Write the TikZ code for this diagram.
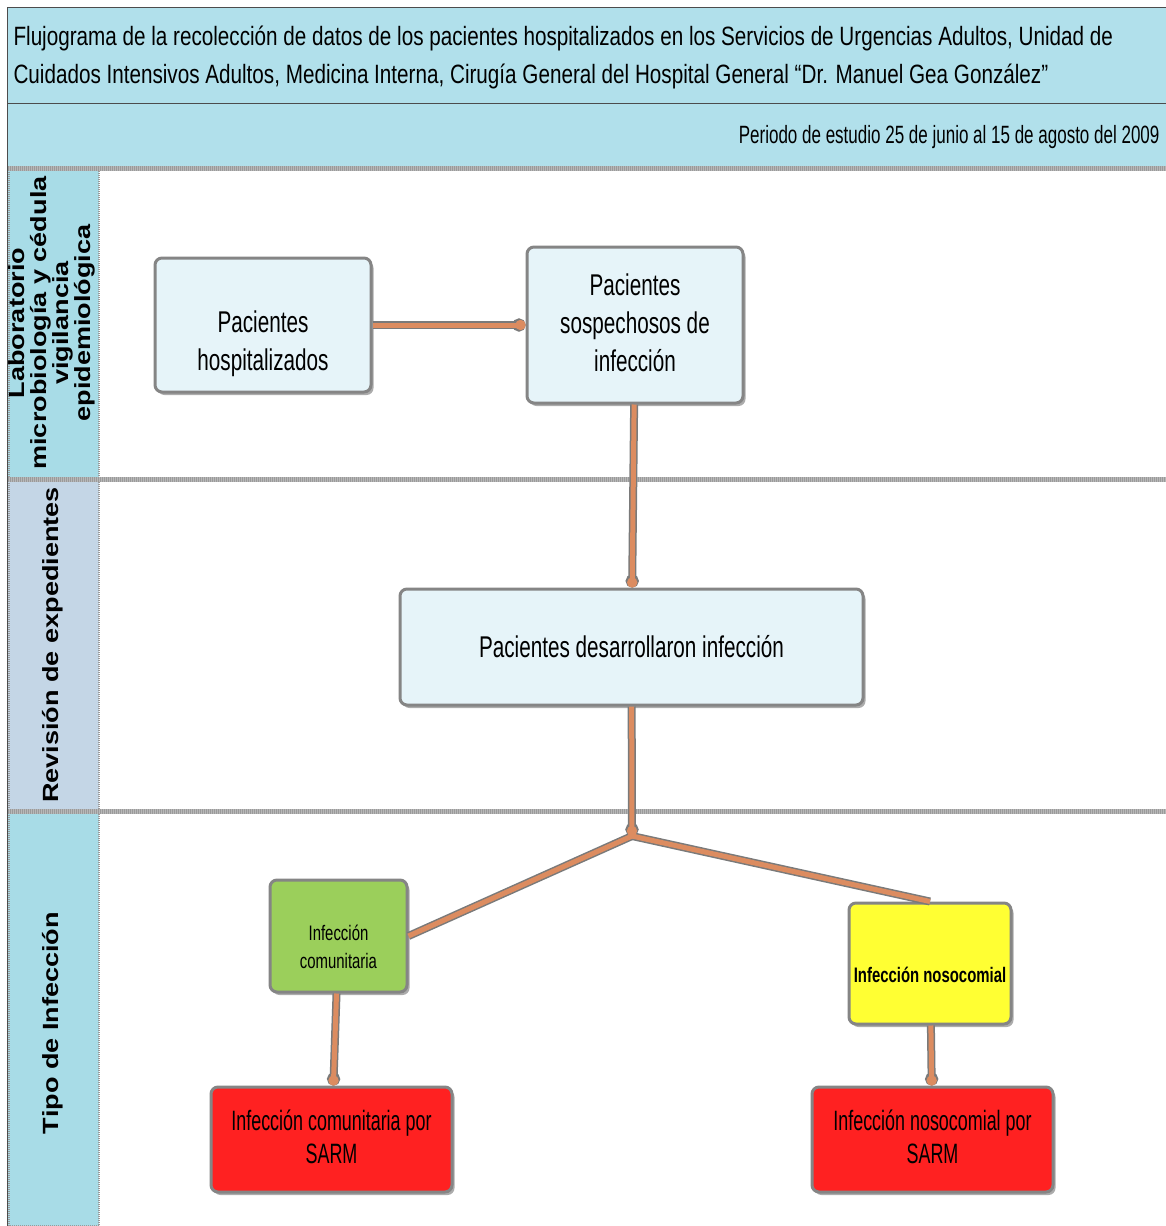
\documentclass[tikz,border=0pt]{standalone}
\usepackage{fontspec}
\setmainfont{Liberation Sans}
\newfontfamily\titlefont[FakeStretch=0.78]{Liberation Sans}
\newfontfamily\periodfont[FakeStretch=0.68]{Liberation Sans}
\newfontfamily\boxfont[FakeStretch=0.69]{Liberation Sans}
\newfontfamily\smallboxfont[FakeStretch=0.71]{Liberation Sans}
\newfontfamily\sarmfont[FakeStretch=0.64]{Liberation Sans}
\newfontfamily\lanefont[FakeStretch=1.23]{Liberation Sans}
\usetikzlibrary{shadows,arrows.meta}

% text block set lower inside its box, without changing the box size
\newcommand\loweredtext[2]{\raisebox{-#1}[\height][\depth]{\begin{tabular}{@{}c@{}}#2\end{tabular}}}

\definecolor{band}{HTML}{B1E0EB}
\definecolor{lanecyan}{HTML}{A8DCE7}
\definecolor{lanegray}{HTML}{C4D6E6}
\definecolor{boxfill}{HTML}{E6F4F9}
\definecolor{boxline}{HTML}{858585}
\definecolor{gbox}{HTML}{9BCF5B}
\definecolor{ybox}{HTML}{FFFF33}
\definecolor{rbox}{HTML}{FF2121}
\definecolor{conncol}{HTML}{DC8C60}
\definecolor{connedge}{HTML}{7A7A7A}
\definecolor{sepgray}{HTML}{9A9A9A}

\tikzset{
  box/.style={draw=boxline, line width=3pt, rounded corners=7pt,
    drop shadow={shadow xshift=2.5pt, shadow yshift=-3pt, fill=black!65},
    align=center, inner sep=0pt, text=black},
  bigtext/.style={font=\boxfont\fontsize{30}{38}\selectfont},
  smalltext/.style={font=\smallboxfont\fontsize{21}{28}\selectfont},
  redtext/.style={font=\sarmfont\fontsize{28}{33}\selectfont},
  lanelabel/.style={rotate=90, align=center, font=\lanefont\bfseries\fontsize{22}{22}\selectfont},
  separator/.style={line width=5pt, draw=sepgray!70},
  sepdots/.style={line width=5pt, draw=sepgray, dash pattern=on 1pt off 1pt},
  wireout/.style={line width=8pt, draw=connedge},
  wirein/.style={line width=5pt, draw=conncol},
  dotout/.style={-{Circle[length=13pt]}},
  dotin/.style={-{Circle[length=10pt]}},
}

\begin{document}
\begin{tikzpicture}[x=1pt, y=-1pt]
\useasboundingbox (0,0) rectangle (1166,1226);
\begin{scope}
\clip (0,0) rectangle (1166,1226);

% header bands
\fill[band] (7,7) rectangle (1180,167);
\draw[black!70, line width=1pt] (7,7) -- (1180,7);
\draw[black!70, line width=1pt] (7,103) -- (1180,103);

\node[anchor=base west, font=\titlefont\fontsize{26.5}{38}\selectfont] (title1) at (10,45)
  {Flujograma de la recolección de datos de los pacientes hospitalizados en los Servicios de Urgencias Adultos, Unidad de};
\node[anchor=base west, font=\titlefont\fontsize{26.5}{38}\selectfont] (title2) at (10,83)
  {Cuidados Intensivos Adultos, Medicina Interna, Cirugía General del Hospital General “Dr. Manuel Gea González”};
\node[anchor=base east, font=\periodfont\fontsize{25}{30}\selectfont] (period) at (1163,143)
  {Periodo de estudio 25 de junio al 15 de agosto del 2009};

% lane label columns
\fill[lanecyan] (8,168) rectangle (99,479);
\fill[lanegray] (8,479) rectangle (99,811);
\fill[lanecyan] (8,811) rectangle (99,1226);
\foreach \yy/\zz in {168/479, 479/811, 811/1226} {
  \draw[sepgray, line width=2pt, dash pattern=on 1pt off 1pt] (9,\yy) rectangle (99,\zz);
}
\draw[black!70, line width=1pt] (7,7) -- (7,1226);

% lane separators
\foreach \yy in {168,479,811} {
  \draw[separator] (8,\yy) -- (1170,\yy);
  \draw[sepdots] (8,\yy) -- (1170,\yy);
}

\node[lanelabel] (lane1) at (52,323) {Laboratorio\\microbiología y cédula\\vigilancia\\epidemiológica};
\node[lanelabel] (lane2) at (53,645) {Revisión de expedientes};
\node[lanelabel] (lane3) at (53,1023) {Tipo de Infección};

% process boxes
\node[box, bigtext, fill=boxfill, minimum width=216pt, minimum height=134pt] (hosp) at (263,325)
  {\loweredtext{19pt}{Pacientes\\hospitalizados}};
\node[box, bigtext, fill=boxfill, minimum width=216pt, minimum height=156pt] (sosp) at (635,325)
  {\loweredtext{1pt}{Pacientes\\sospechosos de\\infección}};
\node[box, bigtext, fill=boxfill, minimum width=463pt, minimum height=116pt] (des) at (631.5,647)
  {Pacientes desarrollaron infección};
\node[box, smalltext, fill=gbox, minimum width=137pt, minimum height=112pt] (com) at (338.5,936)
  {\loweredtext{13pt}{Infección\\comunitaria}};
\node[box, font=\smallboxfont\bfseries\fontsize{21}{28}\selectfont, fill=ybox,
  minimum width=162pt, minimum height=121pt] (nos) at (930,963.5)
  {\loweredtext{13pt}{Infección nosocomial}};
\node[box, redtext, fill=rbox, minimum width=241pt, minimum height=105pt] (sarm1) at (331.5,1139.5)
  {\loweredtext{1pt}{Infección comunitaria por\\SARM}};
\node[box, redtext, fill=rbox, minimum width=241pt, minimum height=105pt] (sarm2) at (932.5,1139.5)
  {\loweredtext{1pt}{Infección nosocomial por\\SARM}};

\coordinate (j) at (632,836);

% connectors: grey outline first, orange core on top
\foreach \w/\t in {wireout/dotout, wirein/dotin} {
  \draw[\w, \t] (hosp) -- (sosp);
  \draw[\w, \t] (sosp) -- (des);
  \draw[\w, \t] (des) -- (j);
  \draw[\w] (j) -- (com.east);
  \draw[\w] (j) -- (nos.north);
  \draw[\w, \t] (com) -- (sarm1);
  \draw[\w, \t] (nos) -- (sarm2);
}
\end{scope}
\end{tikzpicture}
\end{document}
